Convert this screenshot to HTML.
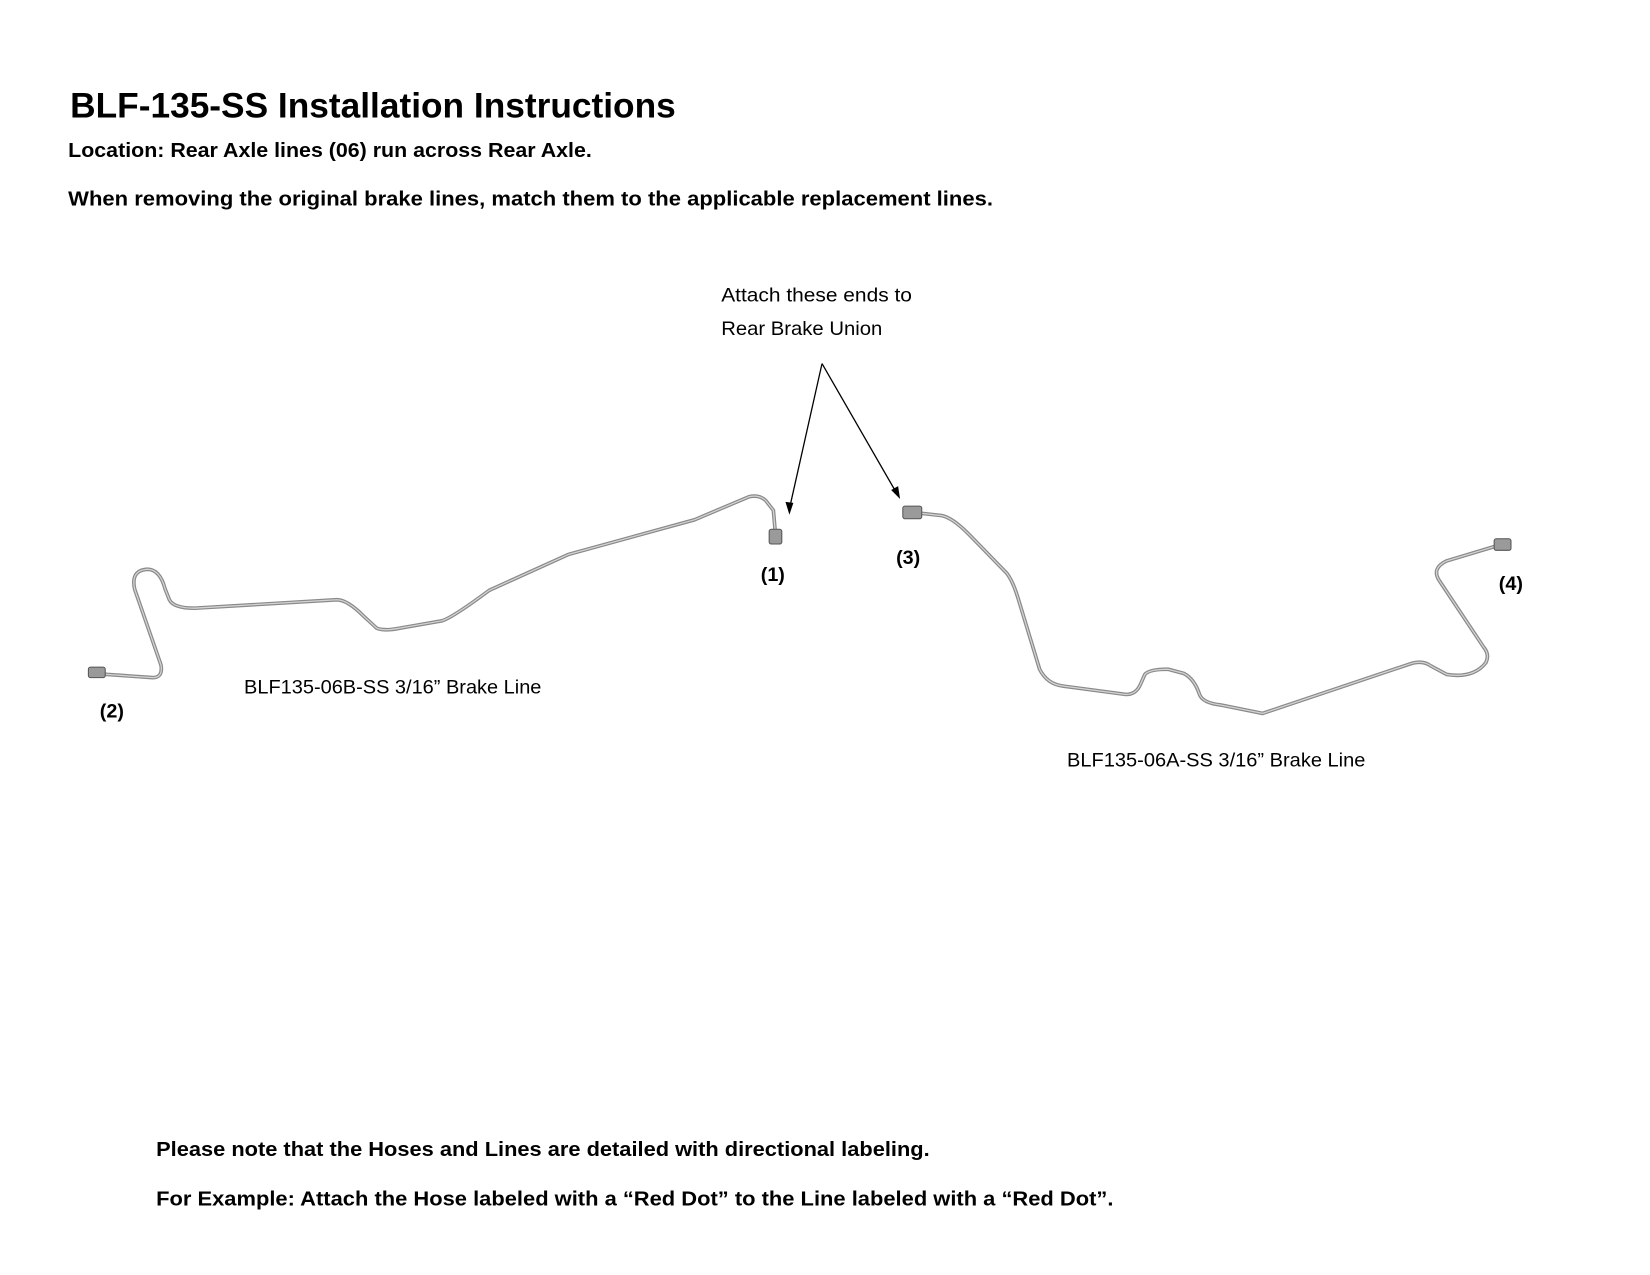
<!DOCTYPE html>
<html><head><meta charset="utf-8"><style>
html,body{margin:0;padding:0;background:#fff;}
svg{display:block;}
text{font-family:"Liberation Sans",sans-serif;fill:#000;}
.b{font-weight:bold;}
</style></head><body>
<svg width="1650" height="1275" viewBox="0 0 1650 1275" xmlns="http://www.w3.org/2000/svg">
<g transform="scale(0.988)">
<text class="b" x="71" y="119" font-size="36" textLength="613" lengthAdjust="spacingAndGlyphs">BLF-135-SS Installation Instructions</text>
<text class="b" x="69" y="159" font-size="21" textLength="530" lengthAdjust="spacingAndGlyphs">Location: Rear Axle lines (06) run across Rear Axle.</text>
<text class="b" x="69" y="208" font-size="21" textLength="936" lengthAdjust="spacingAndGlyphs">When removing the original brake lines, match them to the applicable replacement lines.</text>
<text x="730" y="305" font-size="20" textLength="193" lengthAdjust="spacingAndGlyphs">Attach these ends to</text>
<text x="730" y="339" font-size="20" textLength="163" lengthAdjust="spacingAndGlyphs">Rear Brake Union</text>
<g stroke="#000" stroke-width="1.3" fill="none">
<line x1="832" y1="368" x2="799" y2="515"/>
<line x1="832" y1="368" x2="908" y2="500"/>
</g>
<polygon points="799,521 795,508 803,509" fill="#000"/>
<polygon points="911,505 902,496 909,492" fill="#000"/>
<text class="b" x="770" y="588" font-size="20">(1)</text>
<text class="b" x="907" y="571" font-size="20">(3)</text>
<text class="b" x="1517" y="597" font-size="20">(4)</text>
<text class="b" x="101" y="726" font-size="20">(2)</text>
<text x="247" y="702" font-size="20" textLength="301" lengthAdjust="spacingAndGlyphs">BLF135-06B-SS 3/16” Brake Line</text>
<text x="1080" y="776" font-size="20" textLength="302" lengthAdjust="spacingAndGlyphs">BLF135-06A-SS 3/16” Brake Line</text>
<text class="b" x="158" y="1170" font-size="21" textLength="783" lengthAdjust="spacingAndGlyphs">Please note that the Hoses and Lines are detailed with directional labeling.</text>
<text class="b" x="158" y="1220" font-size="21" textLength="969" lengthAdjust="spacingAndGlyphs">For Example: Attach the Hose labeled with a “Red Dot” to the Line labeled with a “Red Dot”.</text>
<g transform="scale(1.065)" fill="none" stroke-linejoin="round" stroke-linecap="round">
<g stroke="#8a8a8a" stroke-width="3.5">
<path d="M88,640 L145,644 Q155,644 153,632 L128,560 Q124,542 140,541 Q152,541 157,560 L161,570 Q165,578 185,578 L320,570 Q330,570 345,585 L358,597 Q365,600 380,597 L420,590 Q430,587 465,561 L540,527 L660,494 L712,472 Q722,470 728,476 L735,485 L737,508"/>
<path d="M868,487 L895,490 Q905,492 920,507 L957,545 Q963,553 968,570 L988,636 Q995,650 1010,652 L1070,660 Q1080,660 1084,650 L1088,641 Q1092,636 1110,636 L1125,640 Q1135,645 1140,660 Q1143,668 1160,670 L1200,678 L1340,631 Q1352,627 1360,633 L1375,641 Q1400,645 1412,630 Q1416,622 1410,615 L1368,552 Q1360,540 1375,533 L1425,518"/>
</g>
<g stroke="#d4d4d4" stroke-width="1.2">
<path d="M88,640 L145,644 Q155,644 153,632 L128,560 Q124,542 140,541 Q152,541 157,560 L161,570 Q165,578 185,578 L320,570 Q330,570 345,585 L358,597 Q365,600 380,597 L420,590 Q430,587 465,561 L540,527 L660,494 L712,472 Q722,470 728,476 L735,485 L737,508"/>
<path d="M868,487 L895,490 Q905,492 920,507 L957,545 Q963,553 968,570 L988,636 Q995,650 1010,652 L1070,660 Q1080,660 1084,650 L1088,641 Q1092,636 1110,636 L1125,640 Q1135,645 1140,660 Q1143,668 1160,670 L1200,678 L1340,631 Q1352,627 1360,633 L1375,641 Q1400,645 1412,630 Q1416,622 1410,615 L1368,552 Q1360,540 1375,533 L1425,518"/>
</g>
<g fill="#9a9a9a" stroke="#555" stroke-width="1">
<rect x="84" y="634" width="16" height="10" rx="2"/>
<rect x="731" y="503" width="12" height="14" rx="2"/>
<rect x="858" y="481" width="18" height="12" rx="2"/>
<rect x="1420" y="512" width="16" height="11" rx="2"/>
</g>
</g>
</g>
</svg>
</body></html>
